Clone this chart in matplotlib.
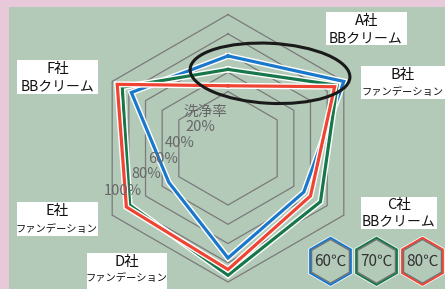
import matplotlib
matplotlib.use('Agg')
import matplotlib.pyplot as plt
import matplotlib.patches as mpatches
import matplotlib.transforms as mtransforms
import numpy as np

plt.rcParams['font.family'] = ['Noto Sans CJK JP', 'DejaVu Sans']

W, H = 445, 289

# data
companies = ['A社', 'B社', 'C社', 'D社', 'E社', 'F社']
products = ['BBクリーム', 'ファンデーション', 'BBクリーム',
            'ファンデーション', 'ファンデーション', 'BBクリーム']
temps = ['60℃', '70℃', '80℃']
rate_60 = [57, 100, 52, 75, 32, 77]
rate_70 = [43, 92, 72, 93, 79, 88]
rate_80 = [26, 89, 60, 87, 83, 94]
rings = [20, 40, 60, 80, 100]
ring_labels = ['20%', '40%', '60%', '80%', '100%']
axis_title = '洗浄率'

colors = ['#1a78cc', '#17774a', '#ef4433']

fig = plt.figure(figsize=(W / 100, H / 100), dpi=100)
fig.patch.set_facecolor('#e8c9da')
# pixel coords, origin top-left
pix = mtransforms.Affine2D().scale(1 / W, -1 / H).translate(0, 1) + fig.transFigure

fig.patches.append(mpatches.Rectangle((9, 7), W - 9, H - 7, transform=pix,
                                      fc='#b3cab9', ec='none', zorder=-5))

# radar axes
r_min, r_max = -39, 105
px_per_unit = 0.962
rad = (r_max - r_min) * px_per_unit
cx, cy = 228, 148.3
ax = fig.add_axes([(cx - rad) / W, (H - cy - rad) / H, 2 * rad / W, 2 * rad / H],
                  projection='polar')
ax.set_zorder(1)
ax.set_theta_zero_location('N')
ax.set_theta_direction(-1)
ax.set_ylim(r_min, r_max)
ax.axis('off')

theta = np.deg2rad(np.arange(len(companies)) * 60.0)
theta_c = np.append(theta, theta[0])

for r in rings:
    ax.plot(theta_c, [r] * len(theta_c), color='#7a7a7a', lw=0.9,
            solid_joinstyle='miter', clip_on=False)

for vals, col in zip([rate_60, rate_70, rate_80], colors):
    v = np.append(vals, vals[0])
    ax.plot(theta_c, v, color='white', lw=4.3, solid_joinstyle='miter', clip_on=False)
    ax.plot(theta_c, v, color=col, lw=2.3, solid_joinstyle='miter', clip_on=False)

# axis labels
fig.text(205, 111.7, axis_title, transform=pix, ha='center', va='center',
         color='#666666', fontsize=10.5, zorder=3)
label_pos = [(200, 126.7), (179.3, 143.3), (163.3, 159), (146.7, 174), (123.3, 190.7)]
for txt, (x, y) in zip(ring_labels, label_pos):
    fig.text(x, y, txt, transform=pix, ha='center', va='center',
             color='#666666', fontsize=10.5, zorder=3)

# company labels in white boxes
boxes = [(326, 12, 407, 45), (361, 66, 445, 99), (361, 197, 437, 229),
         (87, 253, 167, 292), (17, 202, 98, 236), (17, 60, 98, 94)]
line_y = [(21.5, 38.5), (75, 91.5), (205, 221), (262, 277.5), (211.5, 228.5), (69.5, 86.5)]
for comp, prod, (x0, y0, x1, y1), (ya, yb) in zip(companies, products, boxes, line_y):
    fig.patches.append(mpatches.Rectangle((x0, y0), x1 - x0, y1 - y0, transform=pix,
                                          fc='white', ec='none', zorder=2))
    xm = (x0 + x1) / 2
    fs = 7.4 if len(prod) > 6 else 10
    fig.text(xm, ya, comp, transform=pix, ha='center', va='center', fontsize=10.5,
             color='#111111', zorder=3)
    fig.text(xm - 0.5, yb, prod, transform=pix, ha='center', va='center', fontsize=fs,
             color='#111111', zorder=3)

# black ellipse marking A社
fig.patches.append(mpatches.Ellipse((270, 73.3), 160, 60, angle=3, transform=pix,
                                    fill=False, ec='#1a1a1a', lw=2.2, zorder=3))

# legend hexagons
for i, (name, col) in enumerate(zip(temps, colors)):
    x, y = 330.5 + 46 * i, 261.3
    fig.patches.append(mpatches.RegularPolygon((x, y), 6, radius=24.6, orientation=0,
                                               transform=pix, fill=False, ec='white',
                                               lw=1.2, zorder=3))
    fig.patches.append(mpatches.RegularPolygon((x, y), 6, radius=23.5, orientation=0,
                                               transform=pix, fill=False, ec=col,
                                               lw=1.5, zorder=3))
    fig.patches.append(mpatches.RegularPolygon((x, y), 6, radius=21.8, orientation=0,
                                               transform=pix, fill=False, ec='#707070',
                                               lw=0.9, zorder=3))
    fig.text(x, y, name, transform=pix, ha='center', va='center', fontsize=11,
             color='#333333', zorder=4)

fig.savefig('out.png', dpi=100)
